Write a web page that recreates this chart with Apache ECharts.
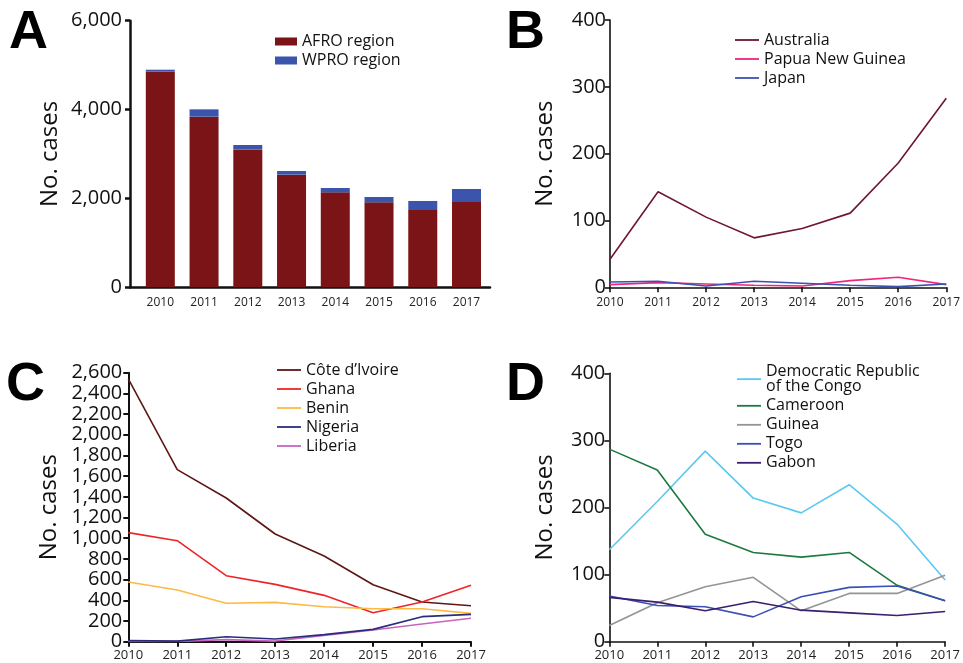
<!DOCTYPE html>
<html>
<head>
<meta charset="utf-8">
<script src="https://cdn.jsdelivr.net/npm/echarts@6/dist/echarts.min.js"></script>
<style>
html,body{margin:0;padding:0;background:#fff;}
#chart{width:963px;height:663px;}
</style>
</head>
<body>
<div id="chart"></div>
<script>
// ---- data ----
const years = ['2010','2011','2012','2013','2014','2015','2016','2017'];
// Panel A (stacked bars)
const afroRegion = [4852, 3840, 3097, 2535, 2137, 1912, 1740, 1920];
const wproRegion = [45, 165, 105, 82, 98, 120, 202, 292];
// Panel B
const australia = [42, 143, 105, 74, 88, 111, 186, 283];
const papuaNewGuinea = [4, 7, 5, 3, 2, 10, 15, 4];
const japan = [8, 9, 2, 9, 6, 3, 1, 5];
// Panel C
const coteDIvoire = [2540, 1663, 1389, 1041, 828, 551, 383, 348];
const ghana = [1054, 976, 638, 554, 448, 280, 383, 545];
const benin = [577, 499, 371, 380, 338, 319, 319, 274];
const nigeria = [10, 6, 48, 26, 68, 119, 242, 264];
const liberia = [3, 3, 20, 6, 61, 113, 171, 226];
// Panel D
const drCongo = [137, 209, 284, 214, 192, 234, 175, 92];
const cameroon = [287, 256, 160, 133, 126, 133, 84, 61];
const guinea = [24, 58, 82, 96, 46, 72, 72, 99];
const togo = [68, 54, 52, 37, 67, 81, 83, 61];
const gabon = [66, 59, 46, 60, 47, 43, 39, 45];
// tick settings
const yTicksA = {max: 6000, interval: 2000};
const yTicksB = {max: 400, interval: 100};
const yTicksC = {max: 2600, interval: 200};
const yTicksD = {max: 400, interval: 100};

const FONT = '"Open Sans", "Noto Sans", sans-serif';
const yearNums = years.map(Number);
const fmt = v => Number(v).toLocaleString('en-US');

function yAxisCfg(grid, t, lw, margin, nameGap) {
  return {
    type: 'value', gridIndex: grid, min: 0, max: t.max, interval: t.interval,
    name: 'No. cases', nameLocation: 'middle', nameGap: nameGap, nameRotate: 90,
    nameTextStyle: {fontFamily: FONT, fontSize: 24, color: '#111'},
    axisLine: {show: true, lineStyle: {color: '#111', width: lw}},
    axisTick: {show: true, length: 5, lineStyle: {color: '#111', width: lw}},
    axisLabel: {fontFamily: FONT, fontSize: 20, color: '#111', margin: margin, formatter: fmt},
    splitLine: {show: false}
  };
}
function xCatCfg(grid, lw, margin, fs) {
  return {
    type: 'category', gridIndex: grid, data: years, boundaryGap: false,
    axisLine: {show: true, lineStyle: {color: '#111', width: lw}},
    axisTick: {show: true, length: 5, alignWithLabel: true, lineStyle: {color: '#111', width: lw}},
    axisLabel: {fontFamily: FONT, fontSize: fs, color: '#222', margin: margin, interval: 0},
    splitLine: {show: false}
  };
}
function lineSeries(name, data, color, idx) {
  return {
    name: name, type: 'line', xAxisIndex: idx, yAxisIndex: idx, data: data,
    symbol: 'none', showSymbol: false, lineStyle: {color: color, width: 1.6},
    itemStyle: {color: color}, animation: false
  };
}
function legendCfg(names, left, top, lh, iw, ih, icon) {
  return {
    data: names, orient: 'vertical', left: left, top: top, padding: 0,
    itemGap: 3, itemWidth: iw, itemHeight: ih, icon: icon,
    textStyle: {fontFamily: FONT, fontSize: 16, color: '#111', lineHeight: lh},
    formatter: n => n === 'Democratic Republic of the Congo' ? 'Democratic Republic\nof the Congo' : n,
    selectedMode: false
  };
}

const chart = echarts.init(document.getElementById('chart'), null, {renderer: 'canvas'});
chart.setOption({
  backgroundColor: '#fff',
  animation: false,
  grid: [
    {left: 130, top: 20.7, width: 360, height: 266.6},
    {left: 610, top: 20, width: 342.7, height: 267.3},
    {left: 128.3, top: 372.7, width: 342.7, height: 269},
    {left: 609.3, top: 373.3, width: 343.4, height: 268.4}
  ],
  xAxis: [
    {
      type: 'value', gridIndex: 0, min: 2009.307, max: 2017.537,
      axisLine: {show: true, onZero: false, lineStyle: {color: '#111', width: 2.5}},
      axisTick: {show: false},
      axisLabel: {fontFamily: FONT, fontSize: 12, color: '#222', margin: 9, customValues: yearNums, formatter: v => String(v)},
      splitLine: {show: false}
    },
    xCatCfg(1, 1.6, 9, 12),
    xCatCfg(2, 2, 7, 13),
    xCatCfg(3, 1.6, 7, 13)
  ],
  yAxis: [
    yAxisCfg(0, yTicksA, 2.5, 8, 68),
    yAxisCfg(1, yTicksB, 1.6, 4, 53),
    yAxisCfg(2, yTicksC, 2, 6, 67),
    yAxisCfg(3, yTicksD, 1.6, 4, 52)
  ],
  legend: [
    legendCfg(['AFRO region', 'WPRO region'], 275, 33.5, 16, 22, 8, 'rect'),
    legendCfg(['Australia', 'Papua New Guinea', 'Japan'], 735, 32, 15.5, 24, 1.8, 'rect'),
    legendCfg(["Côte d’Ivoire", 'Ghana', 'Benin', 'Nigeria', 'Liberia'], 277, 362, 15.3, 24, 1.8, 'rect'),
    legendCfg(['Democratic Republic of the Congo', 'Cameroon', 'Guinea', 'Togo', 'Gabon'], 737, 363.5, 15.3, 24, 1.8, 'rect')
  ],
  graphic: [
    {type: 'text', left: 9, top: 6, style: {text: 'A', font: 'bold 54px "Liberation Sans", Arial, sans-serif', fill: '#000'}},
    {type: 'text', left: 506, top: 6, style: {text: 'B', font: 'bold 54px "Liberation Sans", Arial, sans-serif', fill: '#000'}},
    {type: 'text', left: 6, top: 358, style: {text: 'C', font: 'bold 54px "Liberation Sans", Arial, sans-serif', fill: '#000'}},
    {type: 'text', left: 506, top: 358, style: {text: 'D', font: 'bold 54px "Liberation Sans", Arial, sans-serif', fill: '#000'}}
  ],
  series: [
    {name: 'AFRO region', type: 'bar', xAxisIndex: 0, yAxisIndex: 0, stack: 'a', barWidth: 29,
     encode: {x: 1, y: 0},
     data: yearNums.map((y, i) => [afroRegion[i], y]), itemStyle: {color: '#7A1416'}},
    {name: 'WPRO region', type: 'bar', xAxisIndex: 0, yAxisIndex: 0, stack: 'a', barWidth: 29,
     encode: {x: 1, y: 0},
     data: yearNums.map((y, i) => [wproRegion[i], y]), itemStyle: {color: '#3A55AB'}},
    lineSeries('Australia', australia, '#6E1632', 1),
    lineSeries('Papua New Guinea', papuaNewGuinea, '#F2247C', 1),
    lineSeries('Japan', japan, '#3C52B2', 1),
    lineSeries("Côte d’Ivoire", coteDIvoire, '#5E1717', 2),
    lineSeries('Ghana', ghana, '#EE2528', 2),
    lineSeries('Benin', benin, '#FDBA45', 2),
    lineSeries('Liberia', liberia, '#C466C0', 2),
    lineSeries('Nigeria', nigeria, '#2C2C7C', 2),
    lineSeries('Democratic Republic of the Congo', drCongo, '#5CC8F0', 3),
    lineSeries('Cameroon', cameroon, '#1C7A40', 3),
    lineSeries('Guinea', guinea, '#949494', 3),
    lineSeries('Togo', togo, '#3A50B4', 3),
    lineSeries('Gabon', gabon, '#3A1E70', 3)
  ]
});
</script>
</body>
</html>
